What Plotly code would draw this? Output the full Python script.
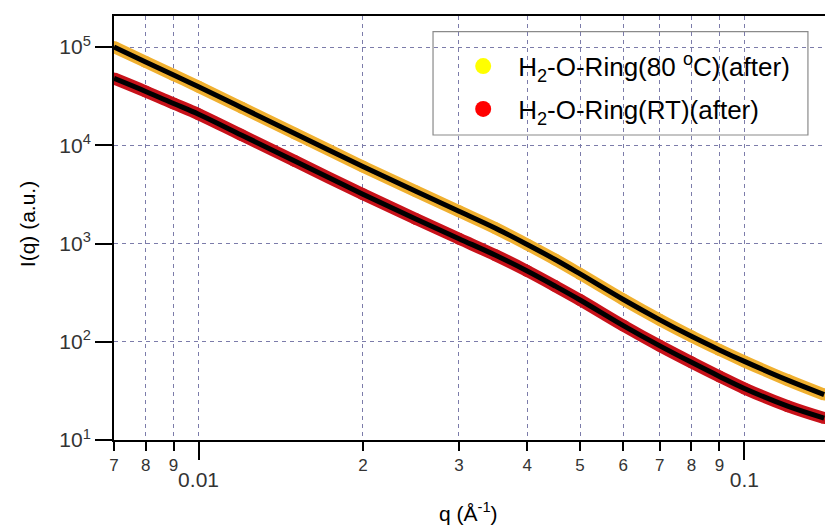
import numpy as np
import plotly.graph_objects as go

# q values (Å^-1)
q = [0.007, 0.008, 0.009, 0.01, 0.012, 0.015, 0.02, 0.025, 0.03, 0.035, 0.04,
     0.045, 0.05, 0.06, 0.07, 0.08, 0.09, 0.1, 0.12, 0.14]
# H2-O-Ring(80 °C)(after)
i_80c = [100000, 70500, 51900, 39400, 24100, 13200, 6070, 3400, 2130, 1430, 977,
         687, 490, 269, 167, 113.5, 82.6, 63.1, 40.7, 29.0]
# H2-O-Ring(RT)(after)
i_rt = [47900, 35300, 26600, 20700, 12650, 6920, 3180, 1780, 1120, 759, 525,
        369, 266, 146, 90.8, 61.7, 44.4, 33.5, 22.1, 16.7]

names = ["H<sub>2</sub>-O-Ring(80 <sup>o</sup>C)(after)", "H<sub>2</sub>-O-Ring(RT)(after)"]
halo_colors = ["#F0B030", "#C8121A"]
legend_colors = ["#FFFF00", "#FF0000"]

x_major = [0.01, 0.1]
x_major_text = ["0.01", "0.1"]
x_minor = [0.007, 0.008, 0.009, 0.02, 0.03, 0.04, 0.05, 0.06, 0.07, 0.08, 0.09]
x_minor_text = ["7", "8", "9", "2", "3", "4", "5", "6", "7", "8", "9"]
y_ticks = [10, 100, 1000, 10000, 100000]
y_text = ["10<sup>1</sup>", "10<sup>2</sup>", "10<sup>3</sup>", "10<sup>4</sup>", "10<sup>5</sup>"]

FONT = "Liberation Sans, Arial, sans-serif"
GRID = "#7C7CAA"

fig = go.Figure()
for ys, hc in zip([i_80c, i_rt], halo_colors):
    fig.add_trace(go.Scatter(x=q, y=ys, mode="lines+markers",
                             line=dict(color=hc, width=12, shape="spline", smoothing=1.0),
                             marker=dict(color=hc, size=12),
                             showlegend=False, hoverinfo="skip"))
    fig.add_trace(go.Scatter(x=q, y=ys, mode="lines",
                             line=dict(color="black", width=5, shape="spline", smoothing=1.0),
                             showlegend=False, hoverinfo="skip"))
for k, (nm, lc) in enumerate(zip(names, legend_colors)):
    fig.add_trace(go.Scatter(x=[None], y=[None], mode="markers", name=nm,
                             legendgroup=str(k),
                             marker=dict(color=lc, size=18)))
# helper trace for the minor-digit axis
fig.add_trace(go.Scatter(x=[q[0]], y=[i_rt[0]], xaxis="x2", mode="markers",
                         marker=dict(opacity=0), showlegend=False, hoverinfo="skip"))

xr = [np.log10(0.007), np.log10(0.1405)]
fig.update_layout(
    width=825, height=525,
    margin=dict(l=114, r=0, t=16, b=85),
    paper_bgcolor="white", plot_bgcolor="white",
    font=dict(family=FONT, color="black"),
    showlegend=True,
    xaxis=dict(type="log", range=xr, tickmode="array", tickvals=x_major, ticktext=x_major_text,
               ticks="outside", ticklen=18, tickwidth=2, tickcolor="black",
               showline=True, linewidth=2, linecolor="black", mirror=True,
               showgrid=True, gridcolor=GRID, gridwidth=1, griddash="4px,4px",
               tickfont=dict(size=21, color="#333"), ticklabelstandoff=2, zeroline=False),
    xaxis2=dict(type="log", range=xr, overlaying="x", anchor="y", side="bottom",
                tickmode="array", tickvals=x_minor, ticktext=x_minor_text,
                ticks="outside", ticklen=10, tickwidth=2, tickcolor="black",
                showline=False, showgrid=True, gridcolor=GRID, gridwidth=1, griddash="4px,4px",
                tickfont=dict(size=17, color="#333"), zeroline=False),
    yaxis=dict(type="log", range=[1, 5.3155], tickmode="array", tickvals=y_ticks, ticktext=y_text,
               ticks="outside", ticklen=17, tickwidth=2, tickcolor="black",
               showline=True, linewidth=2, linecolor="black",
               showgrid=True, gridcolor=GRID, gridwidth=1, griddash="4px,4px",
               tickfont=dict(size=21, color="#333"), zeroline=False),
    legend=dict(x=0.47, y=0.937, xanchor="left", yanchor="top",
                bgcolor="rgba(0,0,0,0)", borderwidth=0,
                font=dict(size=26, color="black", family=FONT),
                itemwidth=60, tracegroupgap=6, traceorder="grouped"),
    shapes=[dict(type="rect", xref="paper", yref="paper",
                 x0=0.4487, x1=0.976, y0=0.7193, y1=0.963,
                 line=dict(color="#8A8A8A", width=1.2), fillcolor="white", layer="below")],
    annotations=[
        dict(text="q (Å<sup>-1</sup>)", xref="paper", yref="paper", x=0.498, y=-0.170,
             showarrow=False, font=dict(size=21, color="black"), xanchor="center", yanchor="middle"),
        dict(text="I(q) (a.u.)", xref="paper", yref="paper", x=-0.1224, y=0.509, textangle=-90,
             showarrow=False, font=dict(size=21, color="black"), xanchor="center", yanchor="middle"),
    ],
)
fig.write_html("out.html")
